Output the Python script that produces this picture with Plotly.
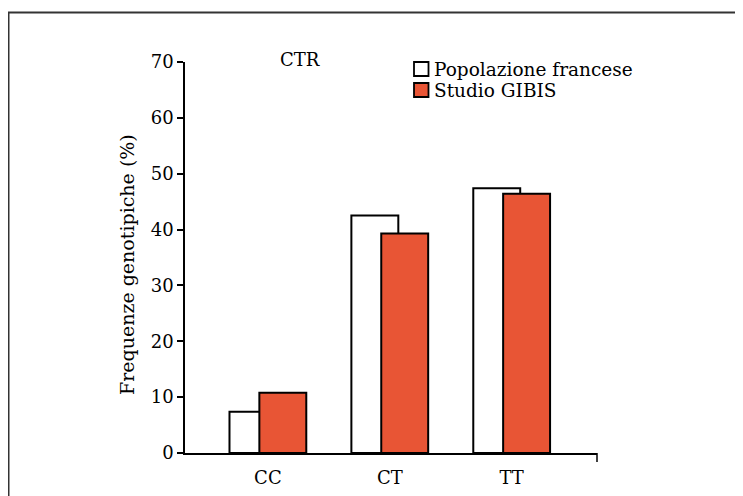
import plotly.graph_objects as go

categories = ["CC", "CT", "TT"]
popolazione_francese = [7.4, 42.5, 47.4]
studio_gibis = [10.8, 39.3, 46.4]
y_ticks = [0, 10, 20, 30, 40, 50, 60, 70]
series_names = ["Popolazione francese", "Studio GIBIS"]

FONT = "DejaVu Serif"
ORANGE = "#E85535"
FS = 18

OFF = 8  # default body margin of the html page
W, H = 743 - OFF, 496 - OFF
# plot area in page pixels
X0, X1, Y0, Y1 = 185, 597, 62, 453
L, T = X0 - OFF, Y0 - OFF
R = W - (X1 - OFF)
B = H - (Y1 - OFF)
pw, ph = X1 - X0, Y1 - Y0

def px_x(p):
    return (p - X0) / pw

def px_y(p):
    return (Y1 - p) / ph

colors = ["white", ORANGE]

fig = go.Figure()
fig.add_trace(go.Bar(
    x=categories, y=popolazione_francese, name=series_names[0],
    marker=dict(color=colors[0], line=dict(color="black", width=2)),
    width=0.385, offset=-0.315,
))
fig.add_trace(go.Bar(
    x=categories, y=studio_gibis, name=series_names[1],
    marker=dict(color=colors[1], line=dict(color="black", width=2)),
    width=0.385, offset=-0.07,
))

shapes = [
    dict(type="line", xref="paper", yref="paper",
         x0=1, x1=1, y0=0, y1=px_y(462),
         line=dict(color="black", width=1.5)),
    dict(type="rect", xref="paper", yref="paper",
         x0=px_x(8.5), x1=px_x(740), y0=px_y(510), y1=px_y(12.5),
         line=dict(color="#333333", width=2)),
]
annotations = [
    dict(text="CTR", x=px_x(300), y=px_y(59.5), xref="paper", yref="paper",
         xanchor="center", yanchor="middle",
         showarrow=False, font=dict(family=FONT, size=FS)),
    dict(text="Frequenze genotipiche (%)", x=px_x(127), y=px_y(265),
         xref="paper", yref="paper", xanchor="center", yanchor="middle",
         showarrow=False, textangle=-90,
         font=dict(family=FONT, size=19)),
]
# custom legend
for i, (name, col) in enumerate(zip(series_names, colors)):
    top = 62 + i * 21
    shapes.append(dict(type="rect", xref="paper", yref="paper",
                       x0=px_x(414), x1=px_x(428.5), y0=px_y(top + 14), y1=px_y(top),
                       fillcolor=col, line=dict(color="black", width=1.8)))
    annotations.append(dict(text=name, x=px_x(432), y=px_y(top + 7.5),
                            xref="paper", yref="paper", xanchor="left",
                            yanchor="middle", showarrow=False,
                            font=dict(family=FONT, size=18.5)))

fig.update_layout(
    width=W, height=H,
    margin=dict(l=L, r=R, t=T, b=B, pad=0, autoexpand=False),
    paper_bgcolor="white", plot_bgcolor="white",
    barmode="overlay",
    font=dict(family=FONT, size=FS, color="black"),
    showlegend=False,
    xaxis=dict(
        type="category", range=[-0.68, 2.70], automargin=False,
        showline=True, linecolor="black", linewidth=1.5,
        ticks="", showgrid=False, zeroline=False,
        ticklabelstandoff=8,
        tickfont=dict(family=FONT, size=FS),
    ),
    yaxis=dict(
        range=[0, 70], tickvals=y_ticks, automargin=False,
        showline=True, linecolor="black", linewidth=1.5,
        ticks="outside", ticklen=6, tickwidth=1.5, tickcolor="black",
        showgrid=False, zeroline=False,
        tickfont=dict(family=FONT, size=FS),
    ),
    annotations=annotations,
    shapes=shapes,
)

fig.write_html("out.html")
